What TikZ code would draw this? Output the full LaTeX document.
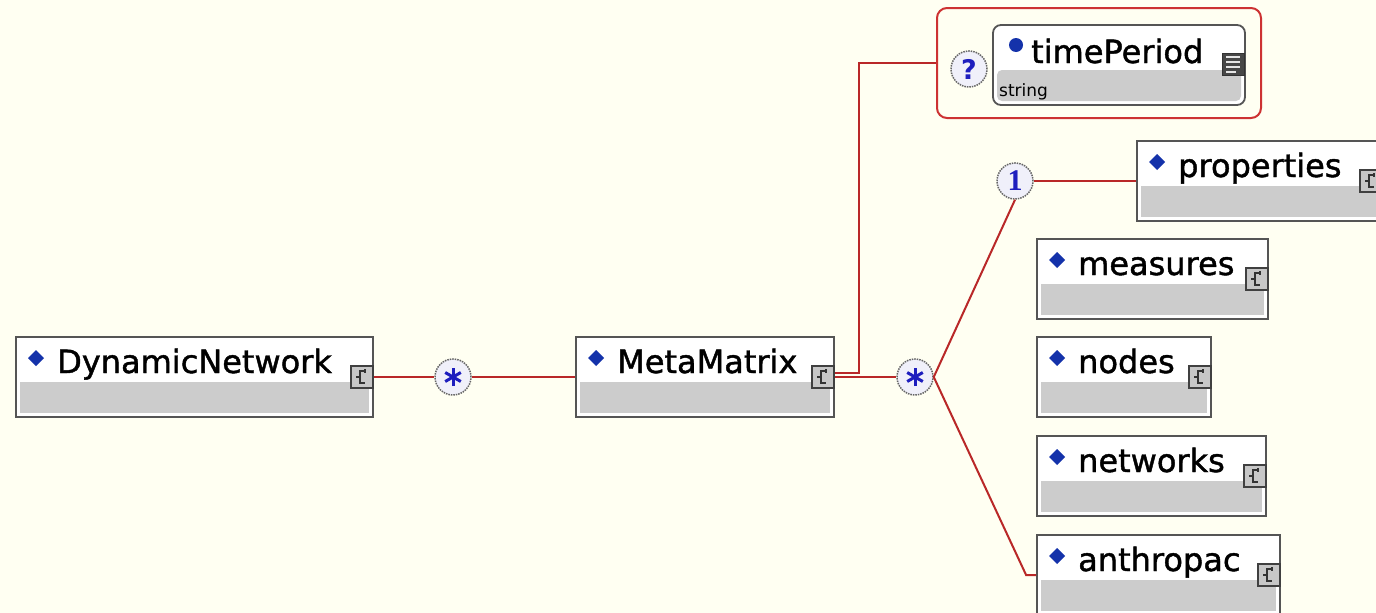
\documentclass[tikz,border=0pt]{standalone}
\usepackage{fontspec}
\setmainfont{DejaVu Sans}
\newfontfamily\serifb{Liberation Serif}
\newfontfamily\boxfont{DejaVu Sans}[FakeBold=1.3]
\definecolor{bg}{RGB}{255,255,242}
\definecolor{redline}{RGB}{185,40,40}
\definecolor{grpred}{RGB}{205,50,50}
\definecolor{boxborder}{RGB}{85,85,85}
\definecolor{graypart}{RGB}{204,204,204}
\definecolor{bulletblue}{RGB}{20,50,170}
\definecolor{circfill}{RGB}{240,240,250}
\definecolor{glyphblue}{RGB}{30,30,190}
\newcommand\ElBox[5]{%
  \node[elbox, minimum width={#4-#2}, minimum height=80] (#1) at ({(#2+#4)/2},{#3+40}) {};
  \fill[graypart] (#2+4,#3+45) rectangle (#4-4,#3+76);
  \fill[bulletblue] (#2+20,#3+13) -- (#2+28,#3+21) -- (#2+20,#3+29) -- (#2+12,#3+21) -- cycle;
  \node[lbl, anchor=base west] (#1-t) at (#2+41,#3+36) {#5};
  \node[icn] (#1-i) at (#4-11,#3+40) {};
  \draw[black!80, line width=1.3] (#4-8,#3+34) -- (#4-13,#3+34) -- (#4-13,#3+46) -- (#4-8,#3+46);
  \draw[black!80, line width=1.3] (#4-17,#3+40) -- (#4-13,#3+40);
  \draw[black!80, line width=1.1] (#4-8,#3+32) -- (#4-8,#3+36);
}
\newcommand\StarGlyph[1]{%
  \draw[glyphblue, line width=3] (#1.center) ++(90:9) -- ++(270:18);
  \draw[glyphblue, line width=3] (#1.center) ++(30:9) -- ++(210:18);
  \draw[glyphblue, line width=3] (#1.center) ++(150:9) -- ++(330:18);
}
\begin{document}
\begin{tikzpicture}[x=1pt,y=-1pt,
  elbox/.style={draw=boxborder, line width=1.8, fill=white, inner sep=0, rectangle},
  lbl/.style={inner sep=0, font=\fontsize{32}{36}\boxfont, text=black},
  icn/.style={draw=black!75, fill=black!22, line width=1.5, minimum size=22, inner sep=0},
  conn/.style={draw=redline, line width=2},
  card/.style={circle, draw=black!60, densely dotted, line width=1.5, fill=circfill, minimum size=36, inner sep=0, text=glyphblue},
]
\fill[bg] (0,0) rectangle (1376,613);
\useasboundingbox (0,0) rectangle (1376,613);

% element boxes
\ElBox{DN}{16}{337}{373}{DynamicNetwork}
\ElBox{MM}{576}{337}{834}{MetaMatrix}
\ElBox{prop}{1137}{141}{1382}{properties}
\ElBox{meas}{1037}{239}{1268}{measures}
\ElBox{nodes}{1037}{337}{1211}{nodes}
\ElBox{netw}{1037}{436}{1266}{networks}
\ElBox{AN}{1037}{535}{1280}{anthropac}

% optional group with timePeriod
\node[draw=grpred, line width=2, rounded corners=10, minimum width=324, minimum height=110, inner sep=0] (grp) at (1099,63) {};
\node[elbox, rounded corners=8, minimum width=252, minimum height=80] (tp) at (1119,65) {};
\fill[graypart, rounded corners=5] (997,70) rectangle (1241,101);
\fill[bulletblue] (1016,45) circle (7);
\node[lbl, anchor=base west] (tp-t) at (1031,63) {timePeriod};
\node[inner sep=0, anchor=base west, font=\fontsize{17}{17}\selectfont] (tp-s) at (999,96) {string};
\node[draw=black!80, fill=black!72, minimum size=22, inner sep=0] (tp-i) at (1233,64) {};
\draw[black!10, line width=1.5] (1226,57) -- (1240,57);
\draw[black!10, line width=1.5] (1226,62) -- (1240,62);
\draw[black!10, line width=1.5] (1226,67) -- (1240,67);
\draw[black!10, line width=1.5] (1226,72) -- (1236,72);

% cardinality circles
\node[card] (s1) at (453,377) {};
\StarGlyph{s1}
\node[card] (s2) at (915,377) {};
\StarGlyph{s2}
\node[card, font=\fontsize{30}{30}\selectfont\serifb\bfseries] (one) at (1015,181) {1};
\node[card, font=\fontsize{27}{27}\selectfont\bfseries] (q) at (969,69) {?};

% connectors
\draw[conn] (DN.east) -- (s1.west);
\draw[conn] (s1.east) -- (MM.west);
\draw[conn] ([yshift=4]MM.east) -- ++(24,0) |- (grp.west);
\draw[conn] (MM.east) -- (s2.west);
\draw[conn] (s2.east) -- (one.south);
\draw[conn] (one.east) -- (prop.west);
\draw[conn] (s2.east) -- ([xshift=-10]AN.west) -- (AN.west);
\end{tikzpicture}
\end{document}
